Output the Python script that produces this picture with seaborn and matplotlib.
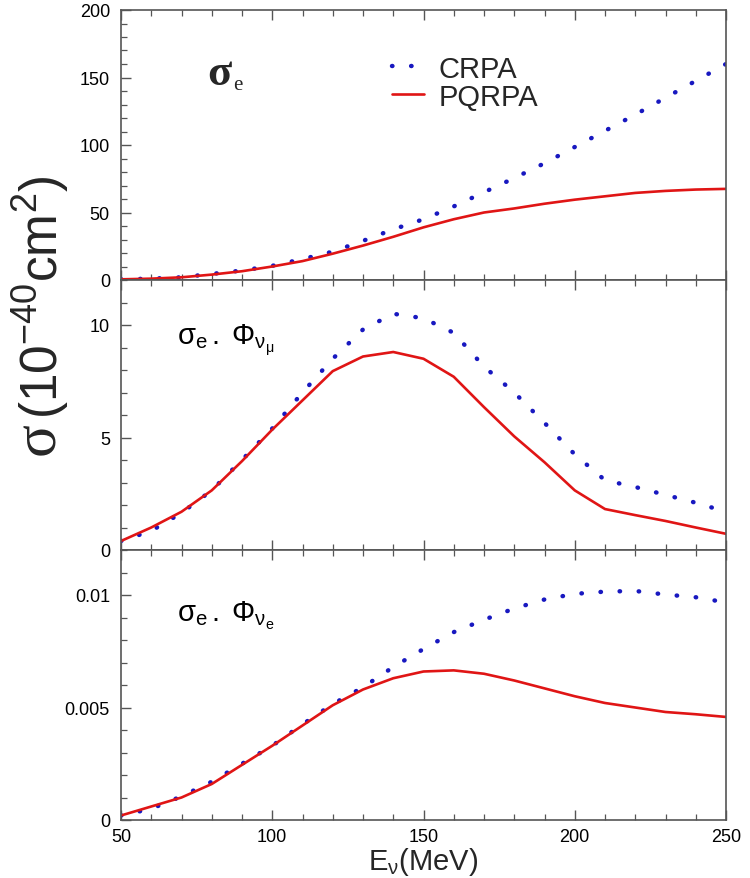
import numpy as np
import pandas as pd
import matplotlib
matplotlib.use("Agg")
import matplotlib.pyplot as plt
import seaborn as sns
from matplotlib.ticker import MultipleLocator

sns.set_theme(style="ticks")
plt.rcParams['font.family'] = ['Liberation Sans', 'DejaVu Sans']
plt.rcParams['mathtext.fontset'] = 'custom'
plt.rcParams['mathtext.rm'] = 'Liberation Sans'
plt.rcParams['mathtext.it'] = 'Liberation Sans:italic'

energy = [50, 60, 70, 80, 90, 100, 110, 120, 130, 140, 150,
          160, 170, 180, 190, 200, 210, 220, 230, 240, 250]

crpa_sigma = [0.5, 1, 2, 4.5, 7, 10.5, 15.5, 21, 29, 37.5, 45,
              54.5, 65, 75.5, 86.5, 98.5, 110.5, 122.5, 135, 147.5, 160]
pqrpa_sigma = [0.5, 1, 2, 4, 6.5, 10, 14, 19.5, 25.5, 32, 39,
               45, 50, 53, 56.5, 59.5, 62, 64.5, 66, 67, 67.5]

crpa_mu = [0.4, 0.85, 1.65, 2.65, 4.0, 5.4, 7.0, 8.5, 9.8, 10.5, 10.3,
           9.65, 8.15, 7.0, 5.65, 4.25, 3.1, 2.8, 2.45, 2.1, 1.7]
pqrpa_mu = [0.4, 1.0, 1.7, 2.65, 3.95, 5.35, 6.65, 7.95, 8.6, 8.8, 8.5,
            7.7, 6.35, 5.05, 3.9, 2.65, 1.82, 1.55, 1.29, 1.0, 0.72]

crpa_e = [0.0002, 0.0005, 0.00105, 0.0017, 0.0025, 0.0033, 0.00425, 0.00515,
          0.0059, 0.0068, 0.0076, 0.00835, 0.0089, 0.0094, 0.0098, 0.01005,
          0.01015, 0.01018, 0.01002, 0.0099, 0.00967]
pqrpa_e = [0.0002, 0.0006, 0.001, 0.0016, 0.00245, 0.0033, 0.0042, 0.0051,
           0.0058, 0.0063, 0.0066, 0.00665, 0.0065, 0.0062, 0.00585, 0.0055,
           0.0052, 0.005, 0.0048, 0.0047, 0.00458]

panel_labels = [None,
                r'$\mathrm{σ}_{\mathrm{e}}\,.\;\mathrm{Φ}_{\mathrm{ν}_{\mathrm{μ}}}$',
                r'$\mathrm{σ}_{\mathrm{e}}\,.\;\mathrm{Φ}_{\mathrm{ν}_{\mathrm{e}}}$']
series_names = ["CRPA", "PQRPA"]
x_ticklabels = ["50", "100", "150", "200", "250"]

blue = "#1818c0"
red = "#e01515"
spine_c = "#555555"

fig = plt.figure(figsize=(7.5, 8.79), dpi=100)
left, width = 121/750, 605/750
h = 270/879
bottoms = [1 - 281/879, 1 - 551/879, 1 - 821/879]
axes = [fig.add_axes([left, b, width, h]) for b in bottoms]

data = [(crpa_sigma, pqrpa_sigma), (crpa_mu, pqrpa_mu), (crpa_e, pqrpa_e)]
ylims = [(0, 200), (0, 12), (0, 0.012)]
ymaj = [50, 5, 0.005]
ymin = [10, 1, 0.001]
yticklabels = [["0", "50", "100", "150", "200"], ["0", "5", "10"], ["0", "0.005", "0.01"]]
label_pos = [None, (0.093, 0.763), (0.093, 0.737)]

for i, ax in enumerate(axes):
    c, p = data[i]
    df = pd.DataFrame({"E": energy * 2, "val": list(c) + list(p),
                       "model": [series_names[0]] * len(energy) + [series_names[1]] * len(energy)})
    sns.lineplot(data=df[df.model == "CRPA"], x="E", y="val", ax=ax, color=blue,
                 linestyle=(0, (0.1, 4.2)), dash_capstyle='round', lw=3.2,
                 label="CRPA" if i == 0 else None, legend=False)
    sns.lineplot(data=df[df.model == "PQRPA"], x="E", y="val", ax=ax, color=red,
                 lw=1.9, label="PQRPA" if i == 0 else None, legend=False)
    ax.set_xlim(50, 250)
    ax.set_ylim(*ylims[i])
    ax.xaxis.set_major_locator(MultipleLocator(50))
    ax.xaxis.set_minor_locator(MultipleLocator(10))
    ax.set_yticks([k * ymaj[i] for k in range(len(yticklabels[i]))])
    ax.set_yticklabels(yticklabels[i])
    ax.yaxis.set_minor_locator(MultipleLocator(ymin[i]))
    ax.tick_params(axis='both', which='both', direction='in', top=True, right=False,
                   colors=spine_c, labelcolor='black', labelsize=13)
    ax.tick_params(axis='y', which='major', pad=8)
    ax.tick_params(axis='x', which='major', pad=6)
    ax.tick_params(which='major', length=7, width=1)
    ax.tick_params(which='minor', length=4.5, width=0.9)
    for s in ax.spines.values():
        s.set_color(spine_c)
        s.set_linewidth(1.2)
    ax.set_xlabel("")
    ax.set_ylabel("")
    if i < 2:
        ax.tick_params(axis='x', labelbottom=False)
    else:
        ax.set_xticks([50, 100, 150, 200, 250])
        ax.set_xticklabels(x_ticklabels)
        ax.set_xlabel(r"E$_{\mathrm{ν}}$(MeV)", fontsize=21, labelpad=0)
    if panel_labels[i] is not None:
        ax.text(label_pos[i][0], label_pos[i][1], panel_labels[i], transform=ax.transAxes,
                fontsize=21, va='baseline', color='black')

# top panel label: bold serif sigma with subscript e
axes[0].text(0.142, 0.726, "σ", transform=axes[0].transAxes, fontsize=32,
             fontweight='bold', family='Liberation Serif', va='baseline')
axes[0].text(0.186, 0.708, "e", transform=axes[0].transAxes, fontsize=15,
             family='Liberation Serif', va='baseline')

leg = axes[0].legend(loc='upper left', bbox_to_anchor=(0.448, 0.835), frameon=False,
                     fontsize=21, handlelength=1.1, handletextpad=0.5, labelspacing=0.0,
                     borderpad=0, borderaxespad=0)

fig.text(0.052, 1 - 455/879, "σ", rotation=90, fontsize=44, family='Liberation Serif',
         ha='center', va='bottom')
fig.text(0.054, 1 - 419/879, r"(10$^{-40}$cm$^{2}$)", rotation=90, fontsize=37,
         ha='center', va='bottom')

fig.savefig("out.png", dpi=100)
